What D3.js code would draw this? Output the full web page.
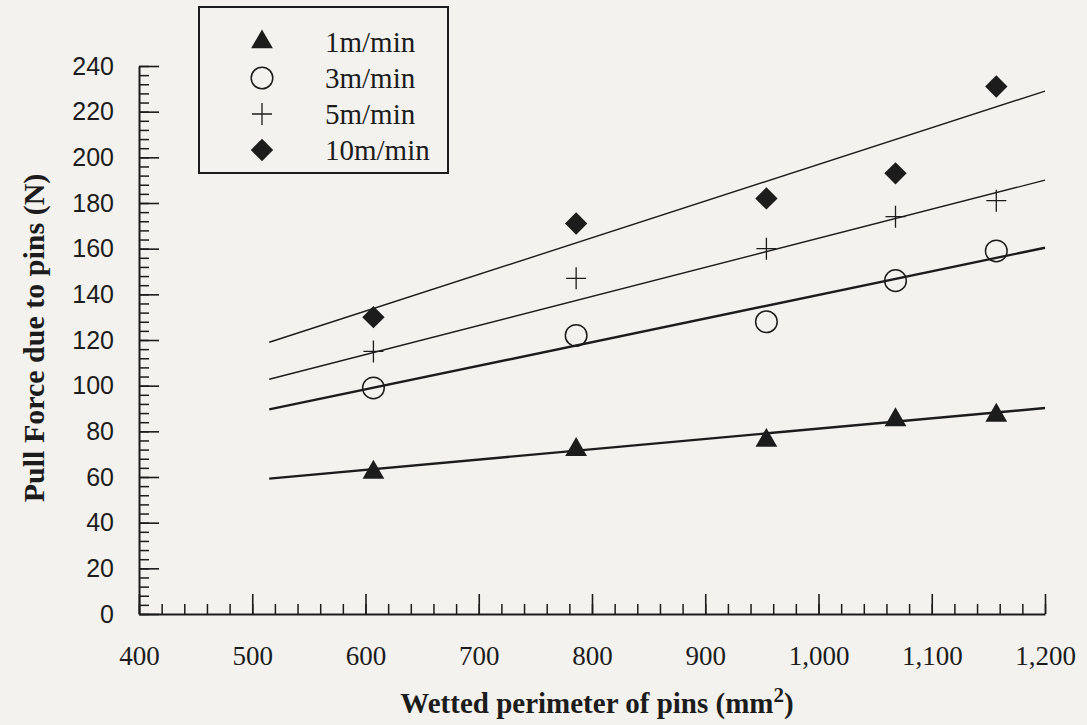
<!DOCTYPE html>
<html>
<head>
<meta charset="utf-8">
<script src="https://cdn.jsdelivr.net/npm/d3@7"></script>
<style>
  html, body { margin: 0; padding: 0; background: #f4f2ee; }
  svg { display: block; }
</style>
</head>
<body>
<svg id="chart" width="1087" height="725"></svg>
<script>
// pin perimeter (mm2) for each test column
const perimeter = [607, 786, 954, 1068, 1157];

// pull force (N) for each pulling speed
const speed1 = [62, 72, 76, 85, 87];
const speed3 = [99, 122, 128, 146, 159];
const speed5 = [115, 147, 160, 174, 181];
const speed10 = [130, 171, 182, 193, 231];

// trend lines, read at their two ends
const fitX = [515, 1200];
const fit1 = [59.3, 90.2];
const fit3 = [89.6, 160.4];
const fit5 = [102.8, 190];
const fit10 = [119, 229];

const legendLabels = ["1m/min", "3m/min", "5m/min", "10m/min"];
const xTicks = [400, 500, 600, 700, 800, 900, 1000, 1100, 1200];
const yTicks = [0, 20, 40, 60, 80, 100, 120, 140, 160, 180, 200, 220, 240];

const series = [
    { name: legendLabels[0], values: speed1, fit: fit1, shape: "triangle", lw: 2.4 },
    { name: legendLabels[1], values: speed3, fit: fit3, shape: "circle", lw: 2.4 },
    { name: legendLabels[2], values: speed5, fit: fit5, shape: "plus", lw: 1.4 },
    { name: legendLabels[3], values: speed10, fit: fit10, shape: "diamond", lw: 1.4 }
];

const ink = "#1c1c1c";
const svg = d3.select("#chart");

const x = d3.scaleLinear().domain([400, 1200]).range([139, 1045]);
const y = d3.scaleLinear().domain([0, 240]).range([614, 66]);

// minor ticks first, then major ones
svg.append("g")
    .attr("transform", "translate(139,0)")
    .call(d3.axisLeft(y).tickValues(d3.range(0, 241, 4)).tickSize(-10).tickSizeOuter(0).tickFormat(""))
    .call(g => g.select(".domain").remove())
    .selectAll("line").attr("stroke", ink).attr("stroke-width", 1.5);

svg.append("g")
    .attr("transform", "translate(0,614)")
    .call(d3.axisBottom(x).tickValues(d3.range(400, 1201, 20)).tickSize(-10).tickSizeOuter(0).tickFormat(""))
    .call(g => g.select(".domain").remove())
    .selectAll("line").attr("stroke", ink).attr("stroke-width", 1.5);

const yAxis = svg.append("g")
    .attr("transform", "translate(139,0)")
    .call(d3.axisLeft(y).tickValues(yTicks).tickSize(-20).tickSizeOuter(0).tickPadding(25));
yAxis.select(".domain").attr("stroke", ink).attr("stroke-width", 2);
yAxis.selectAll("line").attr("stroke", ink).attr("stroke-width", 1.6);
yAxis.selectAll("text")
    .attr("font-family", "Liberation Sans, Arial, sans-serif")
    .attr("font-size", 25)
    .attr("fill", ink);

const xAxis = svg.append("g")
    .attr("transform", "translate(0,614)")
    .call(d3.axisBottom(x).tickValues(xTicks).tickSize(-20).tickSizeOuter(0)
        .tickFormat(d3.format(",")));
xAxis.select(".domain").attr("stroke", ink).attr("stroke-width", 2);
xAxis.selectAll("line").attr("stroke", ink).attr("stroke-width", 1.6);
xAxis.selectAll("text")
    .attr("y", 42)
    .attr("dy", "0.35em")
    .attr("font-family", "Liberation Serif, Times New Roman, serif")
    .attr("font-size", 27)
    .attr("fill", ink);

// axis titles
svg.append("text")
    .attr("transform", "translate(33,338) rotate(-90)")
    .attr("text-anchor", "middle")
    .attr("dominant-baseline", "central")
    .attr("font-family", "Liberation Serif, Times New Roman, serif")
    .attr("font-weight", "bold")
    .attr("font-size", 30)
    .attr("fill", ink)
    .text("Pull Force due to pins (N)");

const xt = svg.append("text")
    .attr("x", 597)
    .attr("y", 713)
    .attr("text-anchor", "middle")
    .attr("font-family", "Liberation Serif, Times New Roman, serif")
    .attr("font-weight", "bold")
    .attr("font-size", 29)
    .attr("fill", ink);
xt.append("tspan").text("Wetted perimeter of pins (mm");
xt.append("tspan").attr("dy", -11).attr("font-size", 21).text("2");
xt.append("tspan").attr("dy", 11).text(")");

// trend lines
const line = d3.line().x(d => x(d[0])).y(d => y(d[1]));
svg.append("g").selectAll("path")
    .data(series)
    .join("path")
    .attr("d", s => line(fitX.map((v, i) => [v, s.fit[i]])))
    .attr("fill", "none")
    .attr("stroke", ink)
    .attr("stroke-width", s => s.lw);

function drawMarker(g, shape) {
    if (shape === "triangle") {
        g.append("path")
            .attr("d", d3.symbol(d3.symbolTriangle, 205)())
            .attr("fill", ink);
    } else if (shape === "circle") {
        g.append("circle")
            .attr("r", 10.8)
            .attr("fill", "none")
            .attr("stroke", ink)
            .attr("stroke-width", 1.5);
    } else if (shape === "plus") {
        g.append("path")
            .attr("d", "M-10,0H10M0,-11V11")
            .attr("stroke", ink)
            .attr("stroke-width", 1.3);
    } else {
        g.append("path")
            .attr("d", d3.symbol(d3.symbolSquare, 250)())
            .attr("transform", "rotate(45)")
            .attr("fill", ink);
    }
}

// data points
series.forEach(s => {
    svg.append("g").selectAll("g")
        .data(s.values)
        .join("g")
        .attr("transform", (d, i) => `translate(${x(perimeter[i])},${y(d)})`)
        .each(function() { drawMarker(d3.select(this), s.shape); });
});

// legend
const legend = svg.append("g");
legend.append("rect")
    .attr("x", 199).attr("y", 7)
    .attr("width", 249).attr("height", 166)
    .attr("fill", "#f4f2ee")
    .attr("stroke", ink)
    .attr("stroke-width", 2);

const rows = legend.selectAll("g.row")
    .data(series)
    .join("g")
    .attr("class", "row")
    .attr("transform", (d, i) => `translate(262,${42 + i * 36})`);
rows.each(function(s) { drawMarker(d3.select(this), s.shape); });
rows.append("text")
    .attr("x", 63)
    .attr("dy", "0.35em")
    .attr("font-family", "Liberation Serif, Times New Roman, serif")
    .attr("font-size", 29)
    .attr("fill", ink)
    .text(d => d.name);
</script>
</body>
</html>
